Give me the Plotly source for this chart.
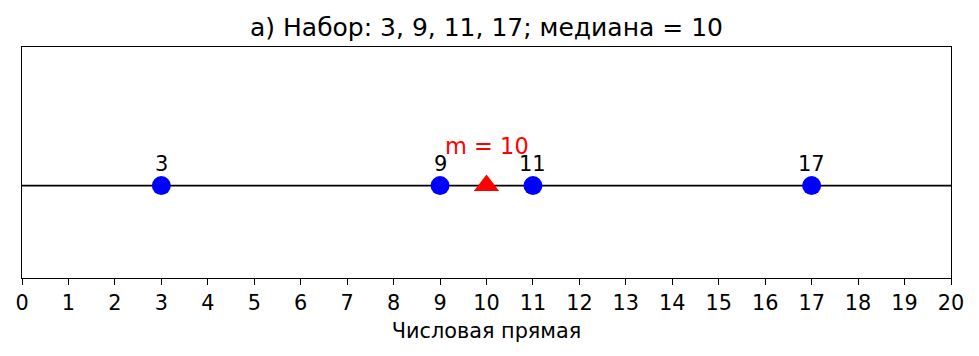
import plotly.graph_objects as go

values = [3, 9, 11, 17]
median_value = 10
point_labels = ["3", "9", "11", "17"]
median_label = "m = 10"
title_text = "а) Набор: 3, 9, 11, 17; медиана = 10"
xlabel_text = "Числовая прямая"
x_ticks = list(range(0, 21))

W, H = 979, 356
L, R, T, B = 22, 28, 47, 78
FONT = "DejaVu Sans"

fig = go.Figure()
fig.add_hline(y=0, line=dict(color="black", width=1.7), layer="below")
fig.add_trace(go.Scatter(
    x=values, y=[0] * len(values), mode="markers",
    marker=dict(color="#0000ff", size=19, symbol="circle", line=dict(width=0)),
    showlegend=False, hoverinfo="skip", cliponaxis=False,
))
fig.add_trace(go.Scatter(
    x=[median_value], y=[0], mode="markers",
    marker=dict(color="#ff0000", size=22, symbol="triangle-up", line=dict(width=0)),
    showlegend=False, hoverinfo="skip", cliponaxis=False,
))
for v, lab in zip(values, point_labels):
    fig.add_annotation(x=v, y=0, text=lab, showarrow=False, xanchor="center",
                       yanchor="bottom", yshift=8,
                       font=dict(family=FONT, size=21, color="black"))
fig.add_annotation(x=median_value, y=0, text=median_label, showarrow=False,
                   xanchor="center", yanchor="bottom", yshift=25,
                   font=dict(family=FONT, size=22.5, color="#ff0000"))

fig.update_layout(
    width=W, height=H,
    margin=dict(l=L, r=R, t=T, b=B),
    paper_bgcolor="white", plot_bgcolor="white",
    font=dict(family=FONT, size=21, color="black"),
    title=dict(text=title_text, x=(L + (W - L - R) / 2) / W, xanchor="center",
               y=1 - 27 / H, yanchor="middle", yref="container",
               font=dict(family=FONT, size=25, color="black")),
    xaxis=dict(range=[0, 20], tickmode="array", tickvals=x_ticks,
               ticktext=[str(t) for t in x_ticks],
               ticks="outside", ticklen=6, tickwidth=1.3, tickcolor="black",
               showline=True, linecolor="black", linewidth=1.3, mirror=True,
               showgrid=False, zeroline=False,
               tickfont=dict(family=FONT, size=20.8, color="black"),
               title=dict(text=xlabel_text, standoff=9,
                          font=dict(family=FONT, size=20.8, color="black"))),
    yaxis=dict(range=[-1, 1.5], showticklabels=False, ticks="",
               showline=True, linecolor="black", linewidth=1.3, mirror=True,
               showgrid=False, zeroline=False),
)

fig.write_html("out.html")
